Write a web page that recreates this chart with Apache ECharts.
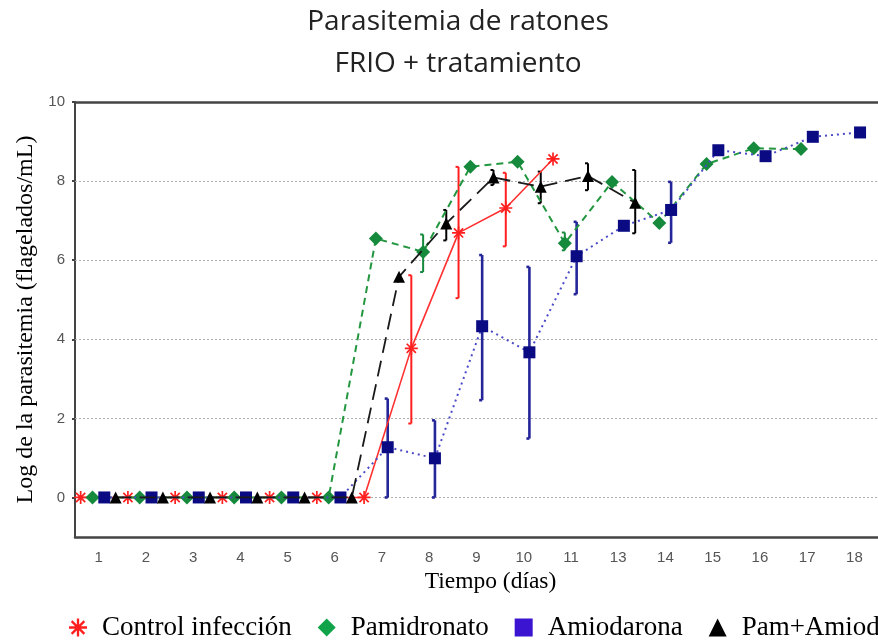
<!DOCTYPE html>
<html>
<head>
<meta charset="utf-8">
<script src="https://cdn.jsdelivr.net/npm/echarts@6/dist/echarts.min.js"></script>
<style>
  html, body { margin: 0; padding: 0; background: #fff; }
  #chart { width: 878px; height: 642px; }
</style>
</head>
<body>
<div id="chart"></div>
<script>
// Days sampled (day 12 was not measured)
const days = ['1', '2', '3', '4', '5', '6', '7', '8', '9', '10', '11', '13', '14', '15', '16', '17', '18'];
const yTicks = [0, 2, 4, 6, 8, 10];
const yGridLines = [0, 2, 4, 6, 8];

// Log parasitemia per group, one value per sampled day (null = not measured)
const controlInfeccion = [0, 0, 0, 0, 0, 0, 0, 3.77, 6.69, 7.32, 8.56, null, null, null, null, null, null];
const pamidronato      = [0, 0, 0, 0, 0, 0, 6.55, 6.21, 8.36, 8.49, 6.43, 7.98, 6.94, 8.43, 8.83, 8.81, null];
const amiodarona       = [0, 0, 0, 0, 0, 0, 1.27, 0.99, 4.33, 3.67, 6.10, 6.87, 7.27, 8.78, 8.63, 9.12, 9.23];
const pamAmiod         = [0, 0, 0, 0, 0, 0, 5.58, 6.93, 8.09, 7.86, 8.13, 7.45, null, null, null, null, null];

// Error bars [low, high] per sampled day (null = no bar)
const controlErr = [null, null, null, null, null, null, null, [1.87, 5.62], [5.04, 8.36], [6.35, 8.21], null, null, null, null, null, null, null];
const pamidronatoErr = [null, null, null, null, null, null, null, [5.70, 6.65], null, null, [6.25, 6.70], null, null, null, null, null, null];
const amiodaronaErr = [null, null, null, null, null, null, [0, 2.50], [0, 1.95], [2.46, 6.13], [1.49, 5.83], [5.14, 6.97], null, [6.44, 7.98], null, null, null, null];
const pamAmiodErr = [null, null, null, null, null, null, null, [6.50, 7.27], [7.90, 8.28], [7.44, 8.24], [7.77, 8.45], [6.68, 8.28], null, null, null, null, null];

// Asterisk marker: four crossing bars
function asteriskPath() {
  const L = 10, w = 1.3;
  let p = '';
  [0, 45, 90, 135].forEach(function (deg) {
    const a = deg * Math.PI / 180;
    const dx = Math.cos(a), dy = Math.sin(a), nx = -dy, ny = dx;
    const pts = [
      [L * dx + w * nx, L * dy + w * ny],
      [L * dx - w * nx, L * dy - w * ny],
      [-L * dx - w * nx, -L * dy - w * ny],
      [-L * dx + w * nx, -L * dy + w * ny]
    ].map(function (q) { return (q[0] + 11).toFixed(2) + ' ' + (q[1] + 11).toFixed(2); });
    p += 'M' + pts[0] + ' L' + pts[1] + ' L' + pts[2] + ' L' + pts[3] + ' Z ';
  });
  return 'path://' + p;
}
const ASTERISK = asteriskPath();

// Within each day, the groups are drawn side by side
const groups = [
  { name: 'Control infección', values: controlInfeccion, err: controlErr, offset: -0.38,
    color: '#ff1f1f', lineColor: '#ff3030', dash: 'solid', lineWidth: 1.6,
    symbol: ASTERISK, symbolSize: 13, errWidth: 2, legendColor: '#ff1f1f' },
  { name: 'Pamidronato', values: pamidronato, err: pamidronatoErr, offset: -0.13,
    color: '#168a3c', lineColor: '#22973f', dash: [7, 5], lineWidth: 2,
    symbol: 'diamond', symbolSize: 14, errWidth: 2, legendColor: '#10a34a' },
  { name: 'Amiodarona', values: amiodarona, err: amiodaronaErr, offset: 0.12,
    color: '#0a0a82', lineColor: '#4a4ac8', dash: [2, 4], lineWidth: 2,
    symbol: 'rect', symbolSize: 12, errWidth: 2.6, legendColor: '#3a14d0', errColor: '#25259a' },
  { name: 'Pam+Amiod', values: pamAmiod, err: pamAmiodErr, offset: 0.36,
    color: '#000000', lineColor: '#1a1a1a', dash: [16, 8], lineWidth: 1.8,
    symbol: 'triangle', symbolSize: 12, errWidth: 2, legendColor: '#000000' }
];

function errorBarRenderer(color, width) {
  return function (params, api) {
    const x = api.value(0);
    const lo = api.coord([x, api.value(1)]);
    const hi = api.coord([x, api.value(2)]);
    const cap = 3;
    const style = { stroke: color, lineWidth: width };
    return {
      type: 'group',
      children: [
        { type: 'line', shape: { x1: lo[0], y1: lo[1], x2: hi[0], y2: hi[1] }, style: style },
        { type: 'line', shape: { x1: lo[0] - cap, y1: lo[1], x2: lo[0], y2: lo[1] }, style: style },
        { type: 'line', shape: { x1: hi[0] - cap, y1: hi[1], x2: hi[0], y2: hi[1] }, style: style }
      ]
    };
  };
}

const series = [];
groups.forEach(function (g, gi) {
  const pts = [];
  g.values.forEach(function (v, i) { if (v !== null) pts.push([i + 1 + g.offset, v]); });
  const errPts = [];
  g.err.forEach(function (e, i) { if (e) errPts.push([i + 1 + g.offset, e[0], e[1]]); });

  series.push({
    type: 'custom',
    name: g.name + ' error',
    xAxisIndex: 2,
    yAxisIndex: 0,
    data: errPts,
    encode: { x: 0, y: [1, 2] },
    renderItem: errorBarRenderer(g.errColor || g.color, g.errWidth),
    silent: true,
    z: 3
  });
  const line = {
    type: 'line',
    name: g.name,
    xAxisIndex: 2,
    yAxisIndex: 0,
    data: pts,
    symbol: g.symbol,
    symbolSize: g.symbolSize,
    showAllSymbol: true,
    itemStyle: { color: g.color, borderWidth: 0 },
    lineStyle: { color: g.lineColor, type: g.dash, width: g.lineWidth },
    z: 4 + gi,
    animation: false
  };
  if (gi === 0) {
    line.markLine = {
      silent: true,
      symbol: 'none',
      label: { show: false },
      lineStyle: { color: '#b0b0b0', type: [2, 2], width: 1 },
      data: yGridLines.map(function (v) { return { yAxis: v }; }),
      z: 1
    };
  }
  series.push(line);
});

const chart = echarts.init(document.getElementById('chart'), null, { renderer: 'canvas' });
chart.setOption({
  animation: false,
  backgroundColor: '#ffffff',
  graphic: [
    { type: 'text', x: 458, y: 22, style: { text: 'Parasitemia de ratones', font: '28px "Open Sans", sans-serif', fill: '#222', textAlign: 'center', textVerticalAlign: 'middle' } },
    { type: 'text', x: 458, y: 64, style: { text: 'FRIO + tratamiento', font: '28px "Open Sans", sans-serif', fill: '#222', textAlign: 'center', textVerticalAlign: 'middle' } }
  ],
  grid: { left: 75, top: 102, right: -5, bottom: 105 },
  legend: {
    left: 64,
    bottom: -4,
    width: 1000,
    itemGap: 26,
    itemWidth: 18,
    itemHeight: 18,
    selectedMode: false,
    textStyle: { fontFamily: '"Liberation Serif", serif', fontSize: 27, color: '#000', padding: [0, 0, 0, 10] },
    data: groups.map(function (g) {
      return { name: g.name, icon: g.symbol, itemStyle: { color: g.legendColor } };
    })
  },
  xAxis: [
    {
      type: 'category',
      data: days,
      position: 'bottom',
      boundaryGap: true,
      name: 'Tiempo (días)',
      nameLocation: 'middle',
      nameGap: 31,
      nameTextStyle: { fontFamily: '"Liberation Serif", serif', fontSize: 23.5, color: '#000', padding: [0, 0, 0, 28] },
      axisLine: { onZero: false, lineStyle: { color: '#444', width: 2.5 } },
      axisTick: { alignWithLabel: true, inside: true, length: 4, lineStyle: { color: '#444', width: 2 } },
      axisLabel: { color: '#555', fontSize: 15, fontFamily: 'Liberation Sans, Arial, sans-serif', margin: 13 },
      splitLine: { show: false }
    },
    {
      type: 'category',
      data: days,
      position: 'top',
      boundaryGap: true,
      axisLine: { onZero: false, lineStyle: { color: '#444', width: 2.5 } },
      axisTick: { alignWithLabel: true, inside: true, length: 4, lineStyle: { color: '#444', width: 2 } },
      axisLabel: { show: false },
      splitLine: { show: false }
    },
    {
      type: 'value',
      min: 0.5,
      max: 17.5,
      show: false,
      splitLine: { show: false }
    }
  ],
  yAxis: [
    {
      type: 'value',
      min: -1,
      max: 10,
      name: 'Log de la parasitemia (flagelados/mL)',
      nameLocation: 'middle',
      nameGap: 34,
      nameRotate: 90,
      nameTextStyle: { fontFamily: '"Liberation Serif", serif', fontSize: 24, color: '#000' },
      axisLine: { show: true, lineStyle: { color: '#444', width: 2 } },
      axisTick: { show: true, inside: false, length: 3, customValues: yTicks, lineStyle: { color: '#444', width: 2 } },
      axisLabel: { customValues: yTicks, color: '#555', fontSize: 15, fontFamily: 'Liberation Sans, Arial, sans-serif', margin: 10 },
      splitLine: { show: false }
    }
  ],
  series: series
});
</script>
</body>
</html>
